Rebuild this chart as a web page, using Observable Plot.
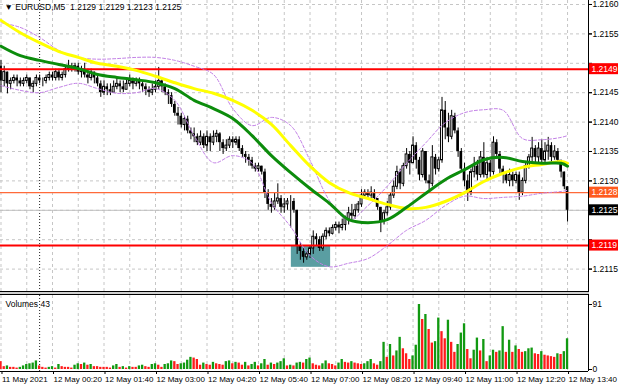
<!DOCTYPE html>
<html><head><meta charset="utf-8">
<script src="https://cdn.jsdelivr.net/npm/d3@7"></script>
<script src="https://cdn.jsdelivr.net/npm/@observablehq/plot@0.6"></script>
<style>
html,body{margin:0;padding:0;background:#fff;}
#chart{position:relative;width:620px;height:388px;overflow:hidden;background:#fff;font-family:"Liberation Sans",Arial,sans-serif;}
#chart svg{position:absolute;left:0;overflow:visible;}
#sep{position:absolute;left:0;top:291px;width:589px;height:2px;border-top:1px solid #000;border-bottom:1px solid #000;background:#d0d0d0;}
</style></head><body><div id="chart"><div id="sep"></div></div>
<script>
// ---------- data (prices in pips above 1.2100) ----------
const symbol = "EURUSD,M5";
const base = 1.21;
const firstOpen = 49.5;
const closePips = [47,48.5,46.5,47,47.5,47,46.5,47,47.5,46,46.5,47.5,47,47,47.5,48,47.5,48.5,47.5,48,49,49.5,49,49.5,48.5,49,48,47.5,48.5,47.5,46.5,
 45,46,45.5,45,46,46.5,46,45.5,46.5,47,
 46.5,47,46.5,46,45.5,45,45.5,46,47,
 46,45,44.5,43,41.5,41,
 39.5,40.5,38.5,38,37.5,36.5,37.5,
 36,37.5,36.5,37.5,38,36.5,35.5,36,37,36.5,37,
 35.5,34.5,34,33.5,32.5,32,32.5,31.5,
 28,26,25.5,26.5,27,25.5,26,26.5,26.5,
 25,19,18,17,17.5,18.5,20.5,20,18.5,20.5,21.5,21,22,22.5,22,22.5,23.5,24.5,24,25,26,27.5,28,27.5,28,27,25.5,23,24.5,
 25.5,27.5,29,31.5,29.5,32.5,34.5,33,36,33.5,31,35,30,29.5,34,32,33.5,42,39,37.5,41,38.5,35,32,30,28,31.5,32.5,31,
 34,31,33,31.5,36.5,34.5,32,31,30,31,30,31,28,30,32.5,34,35.5,34,35.5,33.5,35,36,34,35,33.5,31.5,29,25];
const highPips = [50.5,49.5,48.5,47.5,48,48,47.5,47.5,48,47.5,47,48,48,47.5,48,48.5,48.5,49,49,48.5,49.5,50.5,50,50,50,49.5,50,49,49,48.5,48,
 47,47,46.5,46.5,47,47.5,47,47,47.5,48,
 47.5,47.5,47.5,47,46.5,46,46.5,47,49.3,
 47.5,46.5,45.5,45,43.5,42.5,
 41.5,41,41,39,39,38,38.5,
 38,38.5,38,38.5,38.6,38.2,37,37,37.5,37.5,37.5,
 37.5,36,35,34.5,34,33,33,32.5,
 32,28.5,27,28,29.5,27.5,27,27,27.5,
 27,25,19.5,18.5,18,19,21.5,21,20.5,21,22,22,22.5,23,23,23.5,24,25.5,26,26,26.5,28.5,28.5,28.5,29,28.5,27,25.5,25,
 26.5,28,30,32.5,32,33,35.5,35,37.5,36.5,34,35.5,35,31,36,34.5,34,44.2,43.5,41.5,42,41.5,39,35.5,33,31,32,34,33.5,
 35,36.5,34,33.5,37.5,37,35,32.5,31.5,32,31.5,31.5,31.5,30.5,33,34.5,37.4,36,36.5,37,36.5,37.4,36.5,36,35.5,33.5,31.5,29];
const lowPips = [45,46,44.8,45.5,46.5,46,46,46,46.5,45.5,45,46,46.5,46,46.5,47,47,47,47,47,47.5,48.5,48.5,48.5,48,47.5,47.5,46.5,47,46.5,46,
 44.2,44.5,44.5,44.5,45,45.5,45,45,45.5,46,
 45.5,46,45.5,45,44.5,44.2,44.5,45,45.5,
 45,44.5,43,42.5,41,39.5,
 39,38.5,38,37,36.5,36,36,
 35.5,35,35,36,36.5,35,34.5,35,35.5,35.5,36,
 35,34,33,32.5,32,31.5,31.5,31,
 27,25,24.5,25,26,24.5,24.5,25,22,
 24.5,17.5,16.5,16,16.5,16.8,17.5,19,18,18,20,20.5,20.8,21.5,21,21.5,21.5,22.5,23,23.5,24.5,25.5,27,27,27,26.5,25,21.2,22.5,
 24,25,27,28.5,28.5,29,32,31,33,32,30,30.5,29.5,28.4,29,31,31.5,33,37,36.5,37,38,34,31.5,29,26.5,27.5,30.5,30,
 30.5,30.5,30,30.5,31,34,31,29.5,29.5,29,29,29.5,26.7,27.5,29.5,32,33,33,33,33,33,33.5,33,33.5,33,30.5,28.5,23];
const volumes = [11,4,5,3,3,2,3,5,7,8, 9,12,5,3,2,3,4,2,7,4, 3,3,2,6,8,7,9,6,7,4, 4,3,3,3,2,5,7,3,4,2,
 4,3,3,5,6,4,3,7,8,6, 3,7,8,12,11,7,8,9,13,17, 16,14,6,9,7,6,10,8,7,6, 11,12,8,10,9,6,10,5,7,10,
 5,8,14,6,9,7,9,11,15,5, 6,5,9,10,9,14,16,8,6,5, 8,12,8,7,5,9,14,10,9,11, 9,8,7,8,11,14,8,6,11,
 38,17,35,19,26,45,29,22,14,19, 34,91,70,77,56,37,39,72,53,43, 69,38,24,35,51,64,28,15,27,44,
 26,42,11,19,27,24,26,60,24,41, 24,33,28,24,25,29,30,22,21,25, 20,19,18,17,22,21,25,43];
const timeLabelBars = [0,16,32,48,64,80,96,112,128,144,160,176];
const timeLabels = ["11 May 2021","12 May 00:20","12 May 01:40","12 May 03:00","12 May 04:20","12 May 05:40","12 May 07:00","12 May 08:20","12 May 09:40","12 May 11:00","12 May 12:20","12 May 13:40"];
const gridBars = [0,8,16,24,32,40,48,56,64,72,80,88,96,104,112,120,128,136,144,152,160,168,176];
const daySeparatorBar = 12;
const maBars = [0,6,12,18,24,30,36,42,48,54,60,66,72,78,84,90,96,102,108,114,120,126,132,138,144,150,156,162,168,174,176];
const greenMA = [52.9,51.3,50.5,49.8,49.1,48.1,47.6,47.2,46.7,45.7,43.7,42.3,40.6,37.7,34.3,31.4,28.7,26.2,23.4,22.9,23.4,25.5,27.9,30.2,31.9,33.6,34.0,33.3,33.0,33.0,32.5];
const yellowMA = [57.3,55.2,53.5,52.0,51.0,50.0,49.5,48.8,47.8,46.7,45.7,44.9,43.7,42.0,39.6,36.0,32.5,29.7,28.0,27.0,26.0,25.3,25.5,26.5,28.0,29.9,31.3,32.3,32.8,33.3,33.0];
const upperBand = [56.9,56.1,54.4,52.2,51.0,50.7,50.8,51.0,51.0,50.5,49.5,48.1,42.3,39.4,40.8,39.4,33.5,26.7,23.3,25.8,29.1,33.0,36.5,39.9,41.6,42.1,42.0,37.2,37.0,37.4,37.7];
const lowerBand = [46.2,45.4,45.0,45.9,46.6,45.7,44.9,45.0,45.7,43.7,37.7,33.1,34.3,33.0,26.3,22.2,17.3,15.4,16.0,16.8,19.0,21.6,23.3,25.8,27.4,27.0,27.2,27.4,27.9,28.2,28.4];
const redLevels = [1.2149, 1.2119];
const orangeLevel = 1.2128;
const bidPrice = 1.2125;
const zoneBars = [90.2, 102.4];
const zonePrices = [1.21153, 1.2119];
const priceTicks = [1.2115,1.2120,1.2125,1.2130,1.2135,1.2140,1.2145,1.2150,1.2155,1.2160];
const volumeTicks = [0, 91];

// ---------- layout ----------
const W = 620, MR = 32, H1 = 291, VTOP = 295, H2 = 93;
const xDomain = [-0.155, 182.51];
const pxPerBar = (W - MR) / (xDomain[1] - xDomain[0]);
const yDomain = [1.211119, 1.216068];
const vDomain = [-2.8, 103.6];
const font = "Liberation Sans, Arial, sans-serif";
const FS = 8.5;

const P = v => base + v / 1e4;
const bars = closePips.map((c, i) => {
  const o = i ? closePips[i - 1] : firstOpen;
  return {i, o: P(o), c: P(c), h: P(Math.max(highPips[i], o, c)), l: P(Math.min(lowPips[i], o, c)), bull: c >= o};
});
const ma = maBars.map((b, k) => ({b, g: P(greenMA[k]), y: P(yellowMA[k]), u: P(upperBand[k]), lo: P(lowerBand[k])}));
const vol = volumes.map((v, i) => ({i, v, up: i > 0 && v > volumes[i - 1]}));
const last = bars[bars.length - 1];
const title = `\u25BC ${symbol}  ${last.o.toFixed(4)} ${last.h.toFixed(4)} ${last.l.toFixed(4)} ${last.c.toFixed(4)}`;
const tags = [
  {p: redLevels[0], fill: "#ff0000"},
  {p: orangeLevel, fill: "#ff5a1e"},
  {p: bidPrice, fill: "#000000"},
  {p: redLevels[1], fill: "#ff0000"}
];
const halfTag = 5.5 * (yDomain[1] - yDomain[0]) / H1;
const tagX1 = xDomain[1] + 1 / pxPerBar, tagX2 = xDomain[1] + 30 / pxPerBar, tagTX = xDomain[1] + 3 / pxPerBar;
// tick labels hidden behind a price tag are not printed (their tick marks stay)
const labelTicks = priceTicks.filter(t => !tags.some(g => Math.abs(g.p - t) < 0.00015));
const grid = {stroke: "#c6c6c6", strokeDasharray: "3,3"};

const price = Plot.plot({
  width: W, height: H1, marginLeft: 0, marginRight: MR, marginTop: 0, marginBottom: 0,
  x: {type: "linear", domain: xDomain, axis: null},
  y: {type: "linear", domain: yDomain, axis: null},
  style: {fontFamily: font, fontSize: FS + "px", background: "transparent", color: "#000"},
  marks: [
    Plot.ruleY(priceTicks, grid),
    Plot.ruleX(gridBars, grid),
    Plot.ruleX([daySeparatorBar], {stroke: "#222", strokeDasharray: "1,2"}),
    Plot.rect([0], {x1: zoneBars[0], x2: zoneBars[1], y1: zonePrices[0], y2: zonePrices[1], fill: "#5a9ea2"}),
    Plot.ruleY([bidPrice], {stroke: "#c0c0c0"}),
    Plot.ruleX(bars, {x: "i", y1: "l", y2: "h", stroke: "#000", strokeWidth: 1}),
    Plot.rect(bars.filter(d => !d.bull), {x1: d => d.i - 0.42, x2: d => d.i + 0.42, y1: "o", y2: "c", fill: "#000"}),
    Plot.rect(bars.filter(d => d.bull), {x1: d => d.i - 0.3, x2: d => d.i + 0.3, y1: "o", y2: "c", fill: "#fff", stroke: "#000", strokeWidth: 1}),
    Plot.ruleY([orangeLevel], {stroke: "#ff6a3a", strokeWidth: 1.2}),
    Plot.ruleY(redLevels, {stroke: "#ff0000", strokeWidth: 2}),
    Plot.line(ma, {x: "b", y: "u", stroke: "#c27fe6", strokeWidth: 1, strokeDasharray: "3,2", curve: "catmull-rom"}),
    Plot.line(ma, {x: "b", y: "lo", stroke: "#c27fe6", strokeWidth: 1, strokeDasharray: "3,2", curve: "catmull-rom"}),
    Plot.line(ma, {x: "b", y: "y", stroke: "#ffff00", strokeWidth: 3, curve: "catmull-rom"}),
    Plot.line(ma, {x: "b", y: "g", stroke: "#0c8c0c", strokeWidth: 3, curve: "catmull-rom"}),
    Plot.ruleX([xDomain[1]], {stroke: "#000"}),
    Plot.axisY({anchor: "right", ticks: priceTicks, tickFormat: () => "", tickSize: 3, label: null}),
    Plot.axisY({anchor: "right", ticks: labelTicks, tickFormat: d => d.toFixed(4), tickSize: 3, tickPadding: 1, fontSize: FS, label: null}),
    Plot.rect(tags, {x1: tagX1, x2: tagX2, y1: d => d.p - halfTag, y2: d => d.p + halfTag, fill: "fill"}),
    Plot.text(tags, {x: tagTX, y: "p", text: d => d.p.toFixed(4), fill: "#fff", textAnchor: "start", fontSize: FS}),
    Plot.text([title], {frameAnchor: "top-left", dx: 4, dy: 3, lineAnchor: "top", textAnchor: "start", fontSize: FS, fill: "#000"})
  ]
});
price.style.top = "0px";

const labelMap = new Map(timeLabelBars.map((b, k) => [b, timeLabels[k]]));
const volume = Plot.plot({
  width: W, height: H2, marginLeft: 0, marginRight: MR, marginTop: 0, marginBottom: 17,
  x: {type: "linear", domain: xDomain, axis: null},
  y: {type: "linear", domain: vDomain, axis: null},
  style: {fontFamily: font, fontSize: "8px", background: "transparent", color: "#000"},
  marks: [
    Plot.ruleX(gridBars, grid),
    Plot.ruleX([daySeparatorBar], {stroke: "#222", strokeDasharray: "1,2"}),
    Plot.rect(vol, {x1: d => d.i - 0.36, x2: d => d.i + 0.36, y1: 0, y2: "v", fill: d => d.up ? "#119911" : "#ff1c1c"}),
    Plot.ruleX([xDomain[1]], {stroke: "#000"}),
    Plot.ruleY([vDomain[0]], {stroke: "#000"}),
    Plot.axisY({anchor: "right", ticks: volumeTicks, tickSize: 3, tickPadding: 1, fontSize: FS, label: null}),
    Plot.axisX({anchor: "bottom", ticks: timeLabelBars, tickFormat: d => labelMap.get(d), textAnchor: "start", tickSize: 3, tickPadding: 2, dx: 1, fontSize: 8, label: null}),
    Plot.text([`Volumes ${volumes[volumes.length - 1]}`], {frameAnchor: "top-left", dx: 5, dy: 5, lineAnchor: "top", textAnchor: "start", fontSize: FS, fill: "#000"})
  ]
});
volume.style.top = VTOP + "px";

const root = document.getElementById("chart");
root.appendChild(price);
root.appendChild(volume);
</script></body></html>
